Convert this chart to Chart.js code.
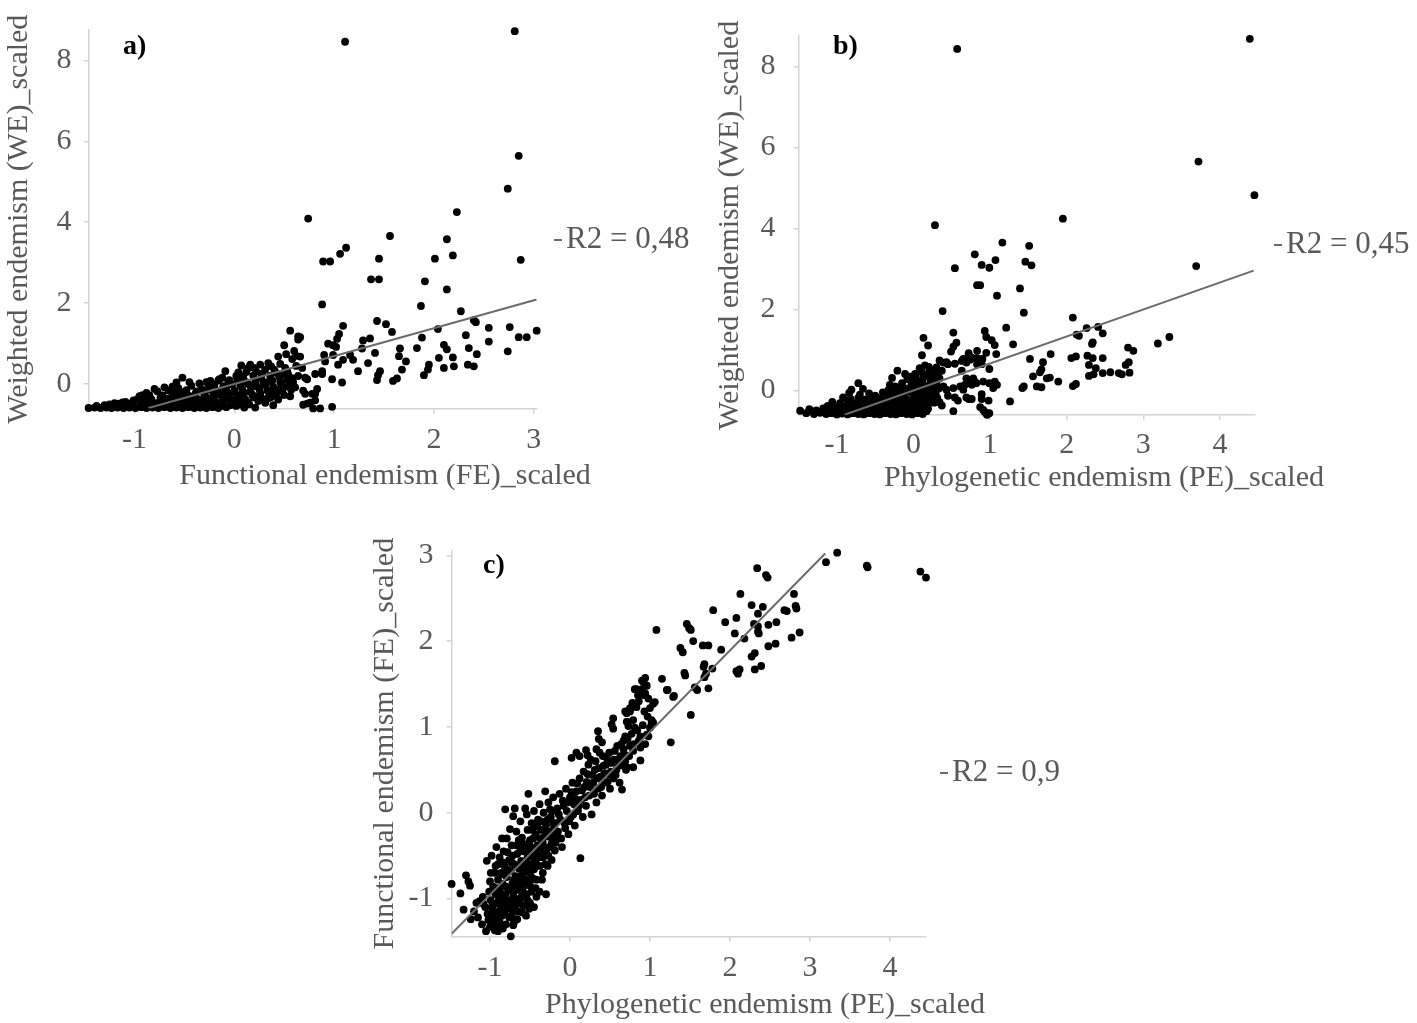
<!DOCTYPE html>
<html>
<head>
<meta charset="utf-8">
<title>Endemism scatter plots</title>
<script src="https://cdn.jsdelivr.net/npm/chart.js@4.4.1/dist/chart.umd.min.js"></script>
<style>
  html, body { margin: 0; padding: 0; background: #fff; }
  body { width: 1417px; height: 1023px; position: relative; overflow: hidden; }
  .panel { position: absolute; }
  #boxA { left: 0; top: 0; width: 700px; height: 500px; }
  #boxB { left: 700px; top: 0; width: 717px; height: 500px; }
  #boxC { left: 360px; top: 520px; width: 700px; height: 503px; }
</style>
</head>
<body>
<div class="panel" id="boxA"><canvas id="chartA"></canvas></div>
<div class="panel" id="boxB"><canvas id="chartB"></canvas></div>
<div class="panel" id="boxC"><canvas id="chartC"></canvas></div>
<script>
// ---- data ----

// a) functional endemism (x) vs weighted endemism (y)
const pointsA = [
  [2.81,8.72],[1.11,8.46],[2.85,5.64],[2.74,4.83],[2.87,3.07],[0.74,4.09],[2.23,4.25],[1.56,3.66],
  [2.13,3.58],[2.19,3.18],[2.01,3.10],[1.12,3.37],[1.06,3.22],[0.89,3.03],[0.96,3.03],[1.45,3.10],
  [1.37,2.59],[1.45,2.59],[1.91,2.54],[2.13,2.34],[0.88,1.97],[1.87,1.93],[2.27,1.80],
  [1.43,1.56],[1.52,1.48],[1.09,1.44],[1.58,1.29],[2.40,1.58],[2.42,1.53],[2.04,1.36],[2.55,1.39],
  [2.76,1.41],[3.03,1.32],[2.85,1.16],[2.93,1.16],[2.55,1.05],[2.32,1.21],[1.88,1.15],[1.05,1.24],
  [1.03,1.12],[0.94,1.00],[1.02,0.92],[1.29,1.08],[1.36,1.13],[1.28,0.88],[1.41,0.77],[1.83,0.89],
  [1.66,0.88],[2.10,0.97],[2.13,0.86],[2.35,0.89],[2.43,0.74],[2.74,0.81],[2.05,0.65],[2.19,0.66],
  [1.65,0.69],[1.72,0.56],[0.90,0.72],[0.99,0.72],[1.16,0.72],[1.19,0.60],[1.09,0.60],[1.34,0.52],
  [1.95,0.48],[1.94,0.36],[1.90,0.22],[2.10,0.40],[2.20,0.44],[2.34,0.48],[2.40,0.44],[1.46,0.32],
  [1.44,0.22],[1.24,0.32],[1.43,0.10],[1.59,0.08],[1.63,0.14],[1.68,0.36],[1.08,0.04],[0.98,0.12],
  [0.88,0.25],[0.81,0.25],[0.71,0.16],[0.68,0.40],[0.66,0.68],[0.66,1.16],[1.04,0.48],[0.91,0.56],
  [0.69,-0.16],[0.78,-0.24],[0.81,-0.40],[0.73,-0.48],[0.86,-0.60],[0.79,-0.60],[0.98,-0.56],[0.83,-0.12],
  [0.76,-0.46],[0.69,-0.51],[0.99,0.96],[0.88,0.32],[0.73,0.12],[0.71,-0.24],[0.81,-0.24],[0.61,-0.08],
  [0.64,0.20],
  [-1.46,-0.59],[-1.40,-0.58],[-1.34,-0.59],[-1.28,-0.58],[-1.23,-0.59],[-1.17,-0.58],[-1.11,-0.59],
  [-1.05,-0.58],[-0.99,-0.59],[-0.93,-0.57],[-0.88,-0.59],[-0.82,-0.58],[-0.76,-0.59],[-0.70,-0.57],
  [-0.64,-0.59],[-0.58,-0.58],[-0.52,-0.59],[-0.46,-0.57],[-0.40,-0.59],[-0.34,-0.58],[-0.28,-0.59],
  [-0.22,-0.57],[-0.16,-0.59],[-0.08,-0.57],[0.21,-0.58],[0.02,-0.54],[0.09,-0.52],[0.39,-0.52],[0.34,-0.35],
  [-1.38,-0.54],[-1.30,-0.52],[-1.24,-0.55],[-1.15,-0.51],[-1.08,-0.53],[-1.02,-0.50],[-0.95,-0.54],
  [-0.87,-0.51],[-0.80,-0.53],[-0.73,-0.50],[-0.67,-0.54],[-0.60,-0.51],[-0.54,-0.53],[-0.47,-0.50],
  [-0.41,-0.54],[-0.35,-0.51],[-0.27,-0.53],[-0.20,-0.50],[-0.13,-0.54],[-0.04,-0.52],[0.15,-0.50],
  [-1.20,-0.47],[-1.16,-0.48],[-1.09,-0.44],[-1.01,-0.40],[-0.93,-0.46],[-0.85,-0.43],[-0.78,-0.47],
  [-0.70,-0.42],[-0.63,-0.45],[-0.55,-0.41],[-0.49,-0.46],[-0.42,-0.43],[-0.34,-0.47],[-0.26,-0.42],
  [-0.18,-0.45],[-0.11,-0.41],[-0.02,-0.46],[0.06,-0.43],[0.13,-0.45],[0.24,-0.42],[0.31,-0.46],
  [-0.97,-0.37],[-0.90,-0.34],[-0.83,-0.38],[-0.74,-0.33],[-0.66,-0.36],[-0.58,-0.32],[-0.50,-0.37],
  [-0.43,-0.34],[-0.36,-0.38],[-0.28,-0.33],[-0.21,-0.36],[-0.12,-0.32],[-0.05,-0.37],[0.04,-0.34],
  [0.11,-0.38],[0.19,-0.33],[0.28,-0.36],[0.37,-0.32],[0.44,-0.38],
  [-0.88,-0.22],[-0.77,-0.18],[-0.66,-0.16],[-0.92,-0.27],[-0.72,-0.28],[-0.55,-0.25],[-0.46,-0.28],
  [-0.39,-0.24],[-0.30,-0.27],[-0.21,-0.23],[-0.13,-0.28],[-0.04,-0.24],[0.03,-0.27],[0.10,-0.22],
  [0.18,-0.26],[0.26,-0.23],[0.35,-0.28],[0.42,-0.24],[0.50,-0.27],
  [-0.58,0.04],[-0.52,0.16],[-0.43,-0.04],[-0.33,-0.12],[-0.24,0.08],[-0.48,-0.15],[-0.38,-0.18],
  [-0.27,-0.14],[-0.17,-0.17],[-0.08,-0.12],[0.00,-0.16],[0.08,-0.13],[0.16,-0.18],[0.25,-0.12],
  [0.33,-0.16],[0.41,-0.13],[0.48,-0.17],[0.57,-0.14],
  [-0.62,-0.06],[-0.20,-0.02],[-0.11,-0.05],[-0.02,-0.01],[0.06,-0.04],[0.14,0.00],[0.22,-0.05],
  [0.31,-0.02],[0.39,-0.06],[0.47,-0.01],[0.55,-0.04],
  [-0.28,0.05],[-0.16,0.09],[-0.06,0.06],[0.03,0.10],[0.12,0.05],[0.21,0.08],[0.29,0.04],[0.38,0.09],
  [0.46,0.06],[0.53,0.10],
  [-0.12,0.16],[0.02,0.20],[0.09,0.17],[0.19,0.21],[0.27,0.16],[0.36,0.20],[0.45,0.18],[0.54,0.24],[0.58,0.15],
  [-0.09,0.32],[0.04,0.29],[0.14,0.40],[0.22,0.31],[0.31,0.36],[0.37,0.44],[0.42,0.28],[0.51,0.40],
  [0.07,0.46],[0.16,0.48],[0.26,0.48],[0.34,0.52],[0.46,0.50],
  [0.44,0.68],[0.50,0.96],[0.56,1.32],[0.64,1.18],[0.64,1.10],[0.60,0.82],[0.58,0.62],[0.52,0.74],[0.62,0.70],
  [-0.95,-0.30],[-0.85,-0.28],[-0.80,-0.12],[-0.70,-0.08],[-0.62,-0.22],[-0.56,-0.10],[-0.50,-0.20],
  [-0.45,0.05],[-0.40,-0.30],[-0.35,0.02],[-0.30,-0.40],[-0.25,-0.05],[-0.20,-0.30],[-0.15,0.12],
  [-0.10,-0.22],[-0.05,0.10],[0.00,-0.40],[0.05,0.22],[0.08,-0.30],[0.12,0.30],[0.17,-0.08],[0.20,0.40],
  [0.24,-0.30],[0.28,0.26],[0.33,0.05],[0.36,-0.22],[0.40,0.36],[0.47,0.22],[0.50,-0.08],[0.53,0.32],
  [0.56,-0.30],[0.59,0.05],[0.62,0.45],[-1.25,-0.50],[-1.12,-0.45],[-1.05,-0.48],[-0.92,-0.50],
  [-0.60,-0.40],[-0.30,-0.20],[0.10,-0.58]
];

// b) phylogenetic endemism (x) vs weighted endemism (y)
const pointsB = [
  [4.39,8.68],[0.57,8.43],[3.72,5.65],[4.45,4.82],[0.28,4.08],[1.95,4.24],[1.16,3.65],[1.51,3.57],
  [0.80,3.36],[1.07,3.22],[0.89,3.10],[0.99,3.03],[0.54,3.02],[1.46,3.18],[1.54,3.09],[0.83,2.60],
  [0.87,2.60],[1.39,2.52],[1.09,2.34],[0.38,1.96],[1.44,1.92],[3.69,3.07],[2.08,1.80],[2.26,1.54],
  [2.41,1.57],[2.47,1.41],[2.13,1.38],[2.16,1.35],[2.34,1.19],[2.33,1.15],[3.19,1.16],[3.34,1.32],
  [2.80,1.06],[2.87,0.98],[1.21,1.55],[1.30,1.14],[0.52,1.43],[0.93,1.47],[0.95,1.32],[1.02,1.24],
  [1.06,1.12],[0.56,1.18],[0.52,1.08],[0.49,0.96],[1.08,0.90],[0.95,0.93],[0.83,0.98],[0.72,0.88],
  [0.65,0.78],[0.74,0.76],[0.83,0.80],[0.90,0.78],[0.34,0.74],[0.43,0.70],[0.54,0.66],[1.79,0.90],
  [1.52,0.78],[1.69,0.70],[1.67,0.52],[1.65,0.45],[1.56,0.35],[1.74,0.30],[1.78,0.32],[1.89,0.22],
  [1.44,0.10],[1.42,0.06],[1.61,0.10],[1.67,0.08],[2.06,0.80],[2.12,0.84],[2.08,0.11],[2.12,0.16],
  [2.27,0.86],[2.34,0.80],[2.47,0.80],[2.29,0.63],[2.38,0.55],[2.29,0.36],[2.35,0.40],[2.47,0.43],
  [2.57,0.45],[2.68,0.43],[2.72,0.40],[2.82,0.44],[2.77,0.63],[2.81,0.70],[0.99,0.53],[0.69,0.30],
  [0.78,0.30],[0.71,0.18],[0.76,0.14],[0.82,0.18],[0.91,0.22],[0.99,0.18],[1.06,0.22],[1.04,0.06],
  [0.61,0.10],[0.65,0.02],[0.52,0.06],[0.43,0.02],[0.39,0.10],[0.34,0.30],[0.54,-0.17],[0.69,-0.17],
  [0.76,-0.21],[0.89,-0.21],[1.26,-0.27],[0.87,-0.41],[0.91,-0.48],[0.95,-0.56],[0.99,-0.56],
  [0.52,-0.51],[0.34,-0.29],[0.13,1.30],[0.19,1.11],[0.11,0.87],[0.72,0.92],[0.76,0.81],[0.69,0.69],
  [0.63,0.73],[0.39,0.69],[0.45,0.65],[0.30,0.57],[0.28,0.45],[0.32,0.38],[0.37,0.49],[0.83,0.65],
  [0.87,0.77],[0.89,0.65],[0.63,0.49],[0.67,0.14],[0.80,0.22],[0.89,-0.09],[0.98,-0.25],[1.09,0.14],
  [0.37,-0.37],[0.45,-0.13],[0.58,-0.25],[0.72,-0.21],[0.93,-0.53],[0.96,-0.60],
  [-1.48,-0.50],[-1.40,-0.56],[-1.30,-0.58],[-1.22,-0.55],[-1.14,-0.58],[-1.07,-0.56],[-1.00,-0.59],
  [-0.93,-0.57],[-0.86,-0.59],[-0.79,-0.56],[-0.72,-0.58],[-0.65,-0.59],[-0.58,-0.56],[-0.51,-0.58],
  [-0.44,-0.59],[-0.37,-0.56],[-0.30,-0.58],[-0.23,-0.59],[-0.16,-0.56],[-0.09,-0.58],[-0.02,-0.59],
  [0.05,-0.56],[0.12,-0.58],
  [-1.36,-0.46],[-1.27,-0.49],[-1.18,-0.44],[-1.10,-0.50],[-1.02,-0.47],[-0.95,-0.51],[-0.88,-0.46],
  [-0.80,-0.50],[-0.73,-0.47],[-0.66,-0.51],[-0.59,-0.46],[-0.52,-0.50],[-0.45,-0.47],[-0.38,-0.51],
  [-0.31,-0.46],[-0.24,-0.50],[-0.17,-0.47],[-0.10,-0.51],[-0.03,-0.46],[0.04,-0.50],[0.10,-0.47],[0.17,-0.51],
  [-1.12,-0.38],[-1.03,-0.42],[-0.95,-0.37],[-0.87,-0.41],[-0.79,-0.38],[-0.71,-0.42],[-0.63,-0.37],
  [-0.56,-0.41],[-0.48,-0.38],[-0.41,-0.42],[-0.33,-0.37],[-0.26,-0.41],[-0.18,-0.38],[-0.11,-0.42],
  [-0.04,-0.37],[0.03,-0.41],[0.10,-0.38],[0.18,-0.42],
  [-1.06,-0.28],[-0.96,-0.31],[-0.86,-0.27],[-0.77,-0.32],[-0.68,-0.29],[-0.60,-0.33],[-0.52,-0.28],
  [-0.44,-0.31],[-0.36,-0.27],[-0.28,-0.32],[-0.20,-0.28],[-0.12,-0.31],[-0.04,-0.26],[0.04,-0.30],
  [0.12,-0.27],[0.20,-0.31],
  [-0.92,-0.17],[-0.82,-0.21],[-0.72,-0.18],[-0.62,-0.22],[-0.53,-0.17],[-0.44,-0.20],[-0.35,-0.16],
  [-0.26,-0.21],[-0.17,-0.18],[-0.09,-0.22],[0.00,-0.16],[0.08,-0.20],[0.16,-0.17],[0.24,-0.21],
  [-0.84,-0.06],[-0.70,-0.10],[-0.58,-0.07],[-0.40,-0.05],[-0.30,-0.09],[-0.21,-0.06],[-0.12,-0.10],
  [-0.03,-0.05],[0.05,-0.09],[0.13,-0.06],[0.21,-0.10],[0.29,-0.07],
  [-0.81,0.02],[-0.66,0.04],[-0.33,0.00],[-0.18,0.05],[-0.08,0.01],[0.01,0.06],[0.10,0.02],[0.18,0.05],[0.26,0.01],
  [-0.72,0.18],[-0.31,0.14],[-0.24,0.10],[-0.15,0.18],[-0.03,0.13],[0.06,0.17],[0.14,0.12],[0.22,0.16],[0.30,0.14],
  [-0.28,0.31],[-0.08,0.28],[0.03,0.32],[0.13,0.34],[0.22,0.29],[0.31,0.26],
  [-0.21,0.49],[-0.11,0.41],[-0.05,0.34],[0.02,0.41],[0.11,0.45],[0.20,0.43],[0.26,0.50],
  [-1.20,-0.52],[-1.05,-0.52],[-0.98,-0.44],[-0.90,-0.53],[-0.84,-0.35],[-0.76,-0.44],[-0.68,-0.52],
  [-0.64,-0.23],[-0.56,-0.33],[-0.50,-0.13],[-0.46,-0.53],[-0.42,-0.25],[-0.38,-0.12],[-0.34,-0.44],
  [-0.28,-0.02],[-0.22,-0.35],[-0.19,-0.12],[-0.14,-0.52],[-0.12,0.06],[-0.06,-0.30],[-0.02,0.22],
  [0.02,-0.12],[0.07,0.08],[0.09,-0.34],[0.12,0.26],[0.15,-0.02],[0.19,-0.45],[0.24,0.08],[0.27,-0.30],
  [0.29,0.36],[0.31,-0.18],[0.33,0.05],[0.25,0.40],[0.20,0.58],[0.15,0.62],[0.08,0.55],[0.05,0.20]
];

// c) phylogenetic endemism (x) vs functional endemism (y)
const pointsC = [
  [3.34,3.03],[3.20,2.92],[3.71,2.88],[3.72,2.86],[4.38,2.81],[4.45,2.74],[2.34,2.85],[2.45,2.77],
  [2.47,2.74],[2.13,2.55],[2.80,2.55],[2.82,2.41],[2.83,2.38],[2.71,2.35],[2.68,2.36],[2.27,2.42],
  [2.41,2.40],[2.35,2.32],[1.79,2.36],[2.08,2.27],[1.94,2.22],[2.30,2.20],[2.35,2.17],[2.35,2.11],
  [2.36,2.09],[2.48,2.19],[2.58,2.22],[2.06,2.09],[2.18,2.03],[2.77,2.04],[2.87,2.10],[2.48,1.94],
  [2.57,1.97],[1.08,2.13],[1.46,2.20],[1.49,2.15],[1.51,2.13],[1.54,2.00],[1.66,1.95],[1.73,1.95],
  [1.89,1.90],[1.38,1.92],[1.41,1.87],[2.27,1.82],[2.31,1.86],[2.08,1.65],[2.12,1.67],[2.10,1.62],
  [2.31,1.67],[2.39,1.71],[1.68,1.73],[1.67,1.70],[1.78,1.68],[1.43,1.63],[1.44,1.60],[1.70,1.62],
  [1.68,1.58],[1.15,1.56],[1.22,1.43],[1.30,1.36],[1.56,1.46],[1.59,1.43],[1.73,1.45],[1.51,1.14],
  [1.26,0.82],
  [0.94,1.57],[0.92,1.52],[0.88,1.43],[0.81,1.44],[0.85,1.37],[0.93,1.37],[0.98,1.33],[1.06,1.29],
  [0.69,1.18],[0.75,1.22],[0.83,1.23],[0.71,1.06],[0.79,1.08],[0.73,1.01],[0.81,0.99],[1.02,1.08],
  [1.04,1.05],[1.00,0.99],[0.88,0.89],[0.98,0.89],[0.69,0.89],[0.67,0.84],[0.75,0.78],[0.88,0.76],
  [0.79,0.72],[0.67,0.61],[0.88,0.61],[0.71,0.53],[0.79,0.53],[0.96,0.91],[0.94,0.80],[1.02,1.05],
  [0.35,0.95],[0.36,0.86],[0.40,0.82],[0.54,1.10],[0.52,1.03],[0.54,0.98],[0.71,1.16],[0.75,1.18],
  [0.83,1.44],[0.90,1.44],[0.94,1.39],[1.04,1.27],[1.21,1.43],[1.29,1.35],
  [0.02,0.64],[0.08,0.70],[0.12,0.66],[0.20,0.73],[0.22,0.67],[0.33,0.74],
  [-1.48,-0.83],[-1.37,-0.94],[-1.30,-0.73],[-1.27,-0.80],[-1.25,-0.85],[-1.33,-1.13],[-1.24,-1.24],
  [-1.04,-0.56],[-1.13,-1.03],[-1.08,-1.06],[-1.00,-1.33],[-0.94,-1.37],[-0.74,-1.44],[-0.71,-1.31],
  [-0.92,-1.22],[-0.88,-1.27],
  [-1.12,-1.05],[-1.09,-0.98],[-1.06,-1.10],[-1.03,-1.18],[-1.01,-0.92],[-0.99,-1.02],[-0.97,-1.12],
  [-0.96,-0.86],[-0.95,-1.25],[-0.93,-0.95],[-0.92,-1.06],[-0.90,-0.78],[-0.89,-1.15],[-0.88,-0.90],
  [-0.87,-1.00],[-0.86,-0.70],[-0.85,-1.20],[-0.84,-0.83],[-0.83,-1.08],[-0.82,-0.62],[-0.81,-0.95],
  [-0.80,-1.30],[-0.79,-0.75],[-0.78,-1.12],[-0.77,-0.88],[-0.76,-0.55],[-0.75,-1.02],[-0.74,-0.68],
  [-0.73,-1.20],[-0.72,-0.82],[-0.71,-0.96],[-0.70,-0.60],[-0.69,-1.08],[-0.68,-0.74],[-0.67,-0.90],
  [-0.66,-0.48],[-0.65,-1.15],[-0.64,-0.65],[-0.63,-0.80],[-0.62,-1.00],[-0.61,-0.56],[-0.60,-0.72],
  [-0.59,-0.88],[-0.58,-1.08],[-0.57,-0.62],[-0.56,-0.42],[-0.55,-0.78],[-0.54,-0.95],[-0.53,-0.52],
  [-0.52,-0.68],[-0.51,-1.12],[-0.50,-0.85],[-0.49,-0.40],[-0.48,-0.60],[-0.47,-0.76],
  [-1.00,-0.80],[-0.98,-1.10],[-0.94,-0.70],[-0.91,-0.88],[-0.89,-1.02],[-0.86,-0.95],[-0.84,-0.58],
  [-0.82,-1.16],[-0.80,-0.86],[-0.78,-0.66],[-0.76,-1.06],[-0.74,-0.90],[-0.72,-0.50],[-0.70,-0.78],
  [-0.68,-1.00],[-0.66,-0.62],[-0.64,-0.86],[-0.62,-0.44],[-0.60,-0.96],[-0.58,-0.70],[-0.56,-0.58],
  [-0.54,-0.82],[-0.52,-0.36],[-0.50,-0.70],[-0.48,-0.92],[-0.46,-0.30],[-0.44,-0.55],[-0.42,-0.78],
  [-0.40,-0.45],[-0.38,-0.62],[-0.36,-0.10],[-0.34,-0.52],[-0.32,-0.28],[-0.30,-0.45],[-0.28,-0.08],
  [-0.26,-0.40],[-0.24,-0.22],[-0.22,0.02],[-0.20,-0.30],[-0.18,-0.12],
  [-1.20,-1.15],[-1.17,-1.05],[-1.15,-1.22],[-1.10,-1.30],[-1.05,-1.38],[-0.98,-1.32],[-0.90,-1.38],
  [-0.84,-1.35],[-0.70,-1.28],[-0.66,-1.24],[-0.60,-1.16],[-0.55,-1.20],[-0.50,-1.05],[-0.45,-1.10],
  [-0.42,-0.98],[-0.38,-0.92],[-0.30,-0.95],[-0.34,-0.70],[-0.28,-0.62],
  [-0.98,-0.50],[-0.92,-0.40],[-0.90,-0.60],[-0.85,-0.30],[-0.83,-0.45],[-0.81,0.04],[-0.79,-0.30],
  [-0.75,-0.19],[-0.73,-0.38],[-0.71,-0.04],[-0.69,0.05],[-0.67,-0.22],[-0.64,-0.32],[-0.62,-0.10],
  [-0.60,-0.29],[-0.58,-0.45],[-0.56,0.05],[-0.54,-0.02],[-0.53,-0.20],[-0.52,0.22],[-0.50,-0.32],
  [-0.48,-0.12],[-0.46,-0.50],[-0.45,0.02],[-0.43,-0.25],[-0.42,-0.60],[-0.41,-0.38],[-0.40,-0.08],
  [-0.38,0.10],[-0.37,-0.48],[-0.36,-0.20],[-0.34,-0.35],[-0.33,0.00],[-0.31,0.25],[-0.30,-0.15],
  [-0.29,-0.42],[-0.27,0.12],[-0.26,-0.28],[-0.24,-0.05],[-0.23,-0.55],[-0.21,0.18],[-0.20,-0.18],
  [-0.19,0.60],[-0.18,-0.35],[-0.16,0.05],[-0.15,-0.22],[-0.13,0.22],[-0.12,-0.08],[-0.10,-0.40],
  [-0.09,0.14],[-0.07,-0.12],[-0.05,0.28],[-0.04,0.02],[-0.02,-0.25],[0.00,0.18],[0.01,-0.05],
  [0.03,0.35],[0.05,0.10],[0.06,-0.15],[0.08,0.25],[0.10,0.02],[0.12,0.40],[0.13,-0.53],[0.14,0.15],
  [0.16,-0.05],[0.18,0.30],[0.20,0.08],[0.22,0.45],[0.24,0.20],[0.26,0.62],[0.27,-0.02],[0.29,0.35],
  [0.31,0.50],[0.33,0.12],[0.35,0.28],[0.37,0.70],[0.38,0.42],[0.40,0.20],[0.42,0.55],[0.44,0.35],
  [0.46,0.64],[0.48,0.45],[0.50,0.28],[0.52,0.58],[0.54,0.40],[0.56,0.72],[0.58,0.50],[0.60,0.62],
  [0.62,0.35],[0.64,0.80],[0.65,0.27],[0.66,0.55],[0.68,0.68],[0.70,0.50],
  [-1.02,-1.25],[-0.99,-0.70],[-0.96,-1.18],[-0.93,-0.62],[-0.91,-1.30],[-0.88,-0.52],[-0.86,-1.10],
  [-0.83,-0.72],[-0.80,-1.02],[-0.78,-0.46],[-0.76,-1.22],[-0.73,-0.58],[-0.71,-1.14],[-0.69,-0.88],
  [-0.67,-0.38],[-0.65,-0.76],[-0.63,-1.06],[-0.61,-0.82],[-0.59,-0.36],[-0.57,-0.96],[-0.55,-0.66],
  [-0.53,-1.02],[-0.51,-0.46],[-0.49,-0.78],[-0.47,-0.20],[-0.45,-0.66],[-0.43,-0.88],[-0.41,-0.16],
  [-0.39,-0.52],[-0.37,-0.30],[-0.35,-0.78],[-0.33,-0.42],[-0.31,-0.60],[-0.29,-0.22],[-0.27,-0.50],
  [-0.25,0.04],[-0.23,-0.36],[-0.21,-0.12],[-0.19,-0.44],[-0.17,-0.26],[-0.14,-0.02],[-0.11,-0.30],
  [-0.08,0.08],[-0.06,-0.18],[-0.03,0.12],[-0.01,-0.10],[0.02,0.24],[0.04,-0.02],[0.07,0.16],
  [0.09,0.34],[0.11,0.08],[0.15,0.26],[0.17,0.48],[0.19,0.18],[0.21,0.36],[0.23,0.56],[0.25,0.30],
  [0.28,0.44],[0.30,0.22],[0.32,0.60],[0.34,0.40],[0.36,0.52],[0.39,0.30],[0.41,0.66],[0.43,0.46],
  [0.45,0.56],[0.47,0.36],[0.49,0.70],[0.51,0.48],[0.55,0.62],[0.57,0.44],[0.59,0.78],[0.61,0.55],
  [0.63,0.66],[0.67,0.74],[0.69,0.60],[0.72,0.86],[0.74,0.66],[0.77,0.92],[0.80,0.80],[0.84,0.96],
  [0.86,0.84],[0.91,1.02],[0.93,1.18],[0.97,1.12],[1.00,1.22],[0.86,1.30],[0.78,1.28],[0.96,1.48],[0.90,1.54]
];

// fitted trend lines (start and end points as drawn)
const trendA = [[-0.86, -0.59], [3.03, 2.09]];
const trendB = [[-0.90, -0.60], [4.44, 2.96]];
const trendC = [[-1.48, -1.41], [3.19, 3.02]];

const r2Labels = ['R2 = 0,48', 'R2 = 0,45', 'R2 = 0,9'];
const panelLetters = ['a)', 'b)', 'c)'];

const xTitles = ['Functional endemism (FE)_scaled', 'Phylogenetic endemism (PE)_scaled', 'Phylogenetic endemism (PE)_scaled'];
const yTitles = ['Weighted endemism (WE)_scaled', 'Weighted endemism (WE)_scaled', 'Functional endemism (FE)_scaled'];

const xTicksA = [-1, 0, 1, 2, 3];
const xTicksB = [-1, 0, 1, 2, 3, 4];
const xTicksC = [-1, 0, 1, 2, 3, 4];
const yTicksWE = [0, 2, 4, 6, 8];
const yTicksFE = [-1, 0, 1, 2, 3];

// ---- styling ----
const DOT = '#000000';
const TREND = '#6b6b6b';
const AXIS = '#d4d4d4';
const TEXT = '#595959';
const FONT = '"Liberation Serif", "Times New Roman", serif';

// panel letter, x-axis title (Excel centres it on the whole plot incl. legend) and R2 key
const notesPlugin = {
  id: 'notes',
  afterDraw(chart, args, o) {
    const ctx = chart.ctx;
    ctx.save();
    ctx.textBaseline = 'middle';
    ctx.textAlign = 'left';
    ctx.fillStyle = '#000';
    ctx.font = 'bold 28px ' + FONT;
    ctx.fillText(o.letter, o.letterX, o.letterY);

    ctx.fillStyle = TEXT;
    ctx.font = '30px ' + FONT;
    ctx.textAlign = 'center';
    ctx.fillText(o.xTitle, o.xTitleX, o.xTitleY);

    ctx.strokeStyle = TREND;
    ctx.lineWidth = 2;
    ctx.beginPath();
    ctx.moveTo(o.keyX, o.keyY);
    ctx.lineTo(o.keyX + 8, o.keyY);
    ctx.stroke();

    ctx.textAlign = 'left';
    ctx.font = '31px ' + FONT;
    ctx.fillText(o.r2, o.keyX + 12, o.keyY);
    ctx.restore();
  }
};

function makePanel(id, p) {
  const toXY = arr => arr.map(([x, y]) => ({ x, y }));
  const axisCommon = {
    type: 'linear',
    grid: { display: true, drawOnChartArea: false, drawTicks: true, tickLength: 5, color: AXIS, lineWidth: 1.5 },
    border: { display: true, color: AXIS, width: 1.5 }
  };
  return new Chart(document.getElementById(id), {
    data: {
      datasets: [
        {
          type: 'line', data: toXY(p.trend), borderColor: TREND, borderWidth: 2,
          pointRadius: 0, fill: false, order: 0
        },
        {
          type: 'scatter', data: toXY(p.points), backgroundColor: DOT, borderWidth: 0,
          pointRadius: 3.9, pointHoverRadius: 3.9, order: 1, clip: false
        }
      ]
    },
    options: {
      responsive: true,
      maintainAspectRatio: false,
      animation: false,
      events: [],
      layout: { padding: p.pad },
      plugins: {
        legend: { display: false },
        tooltip: { enabled: false },
        notes: p.notes
      },
      scales: {
        x: Object.assign({}, axisCommon, {
          min: p.xRange[0], max: p.xRange[1],
          afterBuildTicks: s => { s.ticks = p.xTicks.map(v => ({ value: v })); },
          afterFit: s => { s.height = p.xAxisH; },
          ticks: { color: TEXT, font: { family: FONT, size: 30 }, padding: p.xTickPad, maxRotation: 0, callback: v => String(v) },
          title: { display: false }
        }),
        y: Object.assign({}, axisCommon, {
          min: p.yRange[0], max: p.yRange[1],
          afterBuildTicks: s => { s.ticks = p.yTicks.map(v => ({ value: v })); },
          afterFit: s => { s.width = p.yAxisW; },
          ticks: { color: TEXT, font: { family: FONT, size: 30 }, padding: p.yTickPad, callback: v => String(v) },
          title: { display: true, text: p.yTitle, color: TEXT, font: { family: FONT, size: 30 }, padding: { top: p.yTitlePad, bottom: 0 } }
        })
      }
    },
    plugins: [notesPlugin]
  });
}

makePanel('chartA', {
  points: pointsA, trend: trendA,
  xRange: [-1.46, 3.03], yRange: [-0.6, 8.75], xTicks: xTicksA, yTicks: yTicksWE,
  yTitle: yTitles[0],
  pad: { left: 0, top: 18, right: 163.3, bottom: 0 },
  yAxisW: 88.6, xAxisH: 91.6, xTickPad: 9, yTickPad: 12, yTitlePad: 1,
  notes: { letter: panelLetters[0], letterX: 123, letterY: 47, xTitle: xTitles[0], xTitleX: 385, xTitleY: 476,
           r2: r2Labels[0], keyX: 554, keyY: 240 }
});

makePanel('chartB', {
  points: pointsB, trend: trendB,
  xRange: [-1.5, 4.45], yRange: [-0.6, 8.75], xTicks: xTicksB, yTicks: yTicksWE,
  yTitle: yTitles[1],
  pad: { left: 0, top: 17.4, right: 162.6, bottom: 0 },
  yAxisW: 98.6, xAxisH: 85.2, xTickPad: 7, yTickPad: 18, yTitlePad: 12,
  notes: { letter: panelLetters[1], letterX: 133, letterY: 47, xTitle: xTitles[1], xTitleX: 404, xTitleY: 478,
           r2: r2Labels[1], keyX: 574, keyY: 245 }
});

makePanel('chartC', {
  points: pointsC, trend: trendC,
  xRange: [-1.48, 4.45], yRange: [-1.44, 3.05], xTicks: xTicksC, yTicks: yTicksFE,
  yTitle: yTitles[2],
  pad: { left: 0, top: 22.5, right: 134, bottom: 0 },
  yAxisW: 91.6, xAxisH: 86.7, xTickPad: 9, yTickPad: 13, yTitlePad: 7,
  notes: { letter: panelLetters[2], letterX: 123, letterY: 46, xTitle: xTitles[2], xTitleX: 405, xTitleY: 485,
           r2: r2Labels[2], keyX: 580, keyY: 253 }
});
</script>
</body>
</html>
